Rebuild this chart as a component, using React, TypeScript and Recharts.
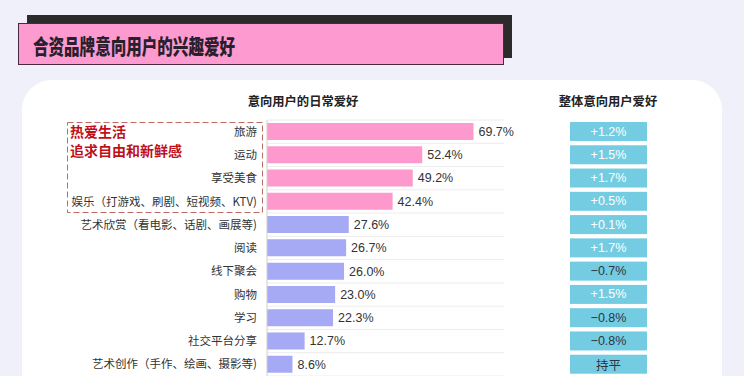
import React from 'react';
import { BarChart, Bar, XAxis, YAxis, LabelList, Cell, ReferenceLine } from 'recharts';

const categories = [
  '旅游',
  '运动',
  '享受美食',
  '娱乐（打游戏、刷剧、短视频、KTV)',
  '艺术欣赏（看电影、话剧、画展等)',
  '阅读',
  '线下聚会',
  '购物',
  '学习',
  '社交平台分享',
  '艺术创作（手作、绘画、摄影等)',
];
const values = [69.7, 52.4, 49.2, 42.4, 27.6, 26.7, 26.0, 23.0, 22.3, 12.7, 8.6];
const overallChange = ['+1.2%', '+1.5%', '+1.7%', '+0.5%', '+0.1%', '+1.7%', '−0.7%', '+1.5%', '−0.8%', '−0.8%', '持平'];
const highlighted = [true, true, true, true, false, false, false, false, false, false, false];

const title = '合资品牌意向用户的兴趣爱好';
const leftHeader = '意向用户的日常爱好';
const rightHeader = '整体意向用户爱好';
const calloutLines = ['热爱生活', '追求自由和新鲜感'];

const data = categories.map((name, i) => ({
  name,
  value: values[i],
  change: overallChange[i],
  hot: highlighted[i],
}));

const FONT = '"Noto Sans CJK SC", "Noto Sans", sans-serif';
const NUMFONT = '"Liberation Sans", Arial, "Noto Sans CJK SC", sans-serif';

const ChangeBox = (props: any) => {
  const { y, height, index } = props;
  const d = data[index];
  if (!d) return null;
  const cy = y + height / 2;
  const positive = d.change.startsWith('+');
  return (
    <g>
      <rect x={570} y={cy - 9.5} width={77} height={19} fill="#74cce2" />
      <text
        x={608.5}
        y={cy}
        textAnchor="middle"
        dominantBaseline="central"
        fontSize={12.5}
        fontFamily={d.change === '持平' ? FONT : NUMFONT}
        fill={positive ? '#ffffff' : '#2e3440'}
      >
        {d.change}
      </text>
    </g>
  );
};

export default function App() {
  return (
    <div
      style={{
        position: 'fixed',
        left: 0,
        top: 0,
        width: 744,
        height: 376,
        background: '#f0f0fb',
        overflow: 'hidden',
        fontFamily: FONT,
      }}
    >
      {/* title shadow */}
      <div style={{ position: 'absolute', left: 27, top: 15, width: 485, height: 43, background: '#2b2b2b' }} />
      {/* title box */}
      <div
        style={{
          position: 'absolute',
          left: 18,
          top: 23,
          width: 484,
          height: 40,
          background: '#fd9ad0',
          border: '1px solid #4a2a40',
          boxSizing: 'content-box',
        }}
      >
        <div
          style={{
            position: 'absolute',
            left: 14,
            top: 1,
            height: 40,
            lineHeight: '40px',
            fontSize: 21,
            fontWeight: 900,
            color: '#2a1f2c',
            transform: 'scaleX(0.74)',
            transformOrigin: 'left center',
            whiteSpace: 'nowrap',
          }}
        >
          {title}
        </div>
      </div>
      {/* card */}
      <div
        style={{
          position: 'absolute',
          left: 22,
          top: 80,
          width: 700,
          height: 340,
          background: '#ffffff',
          borderRadius: 30,
        }}
      />
      {/* headers */}
      <div
        style={{
          position: 'absolute',
          left: 203,
          top: 92,
          width: 200,
          textAlign: 'center',
          fontSize: 12.3,
          fontWeight: 700,
          color: '#222',
        }}
      >
        {leftHeader}
      </div>
      <div
        style={{
          position: 'absolute',
          left: 508,
          top: 92,
          width: 200,
          textAlign: 'center',
          fontSize: 12.3,
          fontWeight: 700,
          color: '#222',
        }}
      >
        {rightHeader}
      </div>
      {/* dashed callout */}
      <svg style={{ position: 'absolute', left: 0, top: 0 }} width={744} height={376}>
        <rect
          x={67.5}
          y={122.5}
          width={195}
          height={90}
          fill="none"
          stroke="#c06a66"
          strokeWidth={1}
          strokeDasharray="6 3"
        />
      </svg>
      <div
        style={{
          position: 'absolute',
          left: 70,
          top: 122,
          fontSize: 14,
          fontWeight: 700,
          color: '#c00f1a',
          lineHeight: '18.5px',
        }}
      >
        {calloutLines.map((l) => (
          <div key={l}>{l}</div>
        ))}
      </div>
      <div style={{ position: 'absolute', left: 0, top: 0 }}>
        <BarChart
          width={744}
          height={376}
          data={data}
          layout="vertical"
          margin={{ top: 120, right: 240, bottom: 0, left: 0 }}
          barSize={17}
        >
          <XAxis type="number" domain={[0, 80]} hide />
          <YAxis
            type="category"
            dataKey="name"
            width={267}
            axisLine={{ stroke: '#cfcfcf' }}
            tickLine={false}
            tickMargin={4}
            interval={0}
            tick={{ fontSize: 11.5, fill: '#333', fontFamily: FONT }}
          />
          {categories.map((c) => (
            <ReferenceLine key={c} y={c} position="start" stroke="#ececec" ifOverflow="visible" />
          ))}
          <ReferenceLine y={categories[categories.length - 1]} position="end" stroke="#ececec" />
          <Bar dataKey="value" isAnimationActive={false}>
            {data.map((d, i) => (
              <Cell key={i} fill={d.hot ? '#fd99cd' : '#a6aaf5'} />
            ))}
            <LabelList
              dataKey="value"
              position="right"
              offset={5}
              formatter={(v: any) => `${Number(v).toFixed(1)}%`}
              style={{ fontSize: 12.5, fill: '#333', fontFamily: NUMFONT }}
            />
            <LabelList dataKey="change" content={<ChangeBox />} />
          </Bar>
        </BarChart>
      </div>
    </div>
  );
}
